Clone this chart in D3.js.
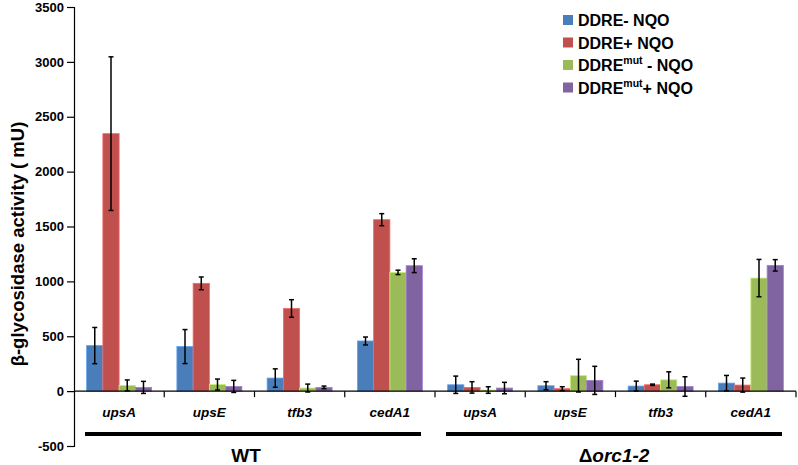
<!DOCTYPE html>
<html>
<head>
<meta charset="utf-8">
<script src="https://cdn.jsdelivr.net/npm/d3@7"></script>
<style>
  html, body { margin: 0; padding: 0; background: #fff; }
  svg { display: block; font-family: "Liberation Sans", Arial, sans-serif; }
</style>
</head>
<body>
<svg id="chart" width="798" height="465"></svg>
<script>
// ---- data ----
const categories = ["upsA", "upsE", "tfb3", "cedA1", "upsA", "upsE", "tfb3", "cedA1"];
const groups = ["WT", "orc"];
const groupOf = [0, 0, 0, 0, 1, 1, 1, 1];
const seriesNames = ["DDRE- NQO", "DDRE+ NQO", "DDREmut - NQO", "DDREmut+ NQO"];
const seriesColors = ["#4A7EBB", "#C0504D", "#9BBB59", "#8064A2"];
const valuesDDREminus = [415, 406, 119, 457, 58, 49, 46, 73];
const errorsDDREminus = [165, 155, 84, 36, 79, 37, 45, 70];
const valuesDDREplus = [2346, 982, 753, 1562, 34, 22, 58, 55];
const errorsDDREplus = [700, 58, 80, 55, 52, 18, 6, 64];
const valuesMutMinus = [52, 60, 28, 1082, 10, 141, 103, 1030];
const errorsMutMinus = [50, 50, 36, 20, 30, 149, 73, 170];
const valuesMutPlus = [34, 43, 34, 1143, 28, 98, 42, 1146];
const errorsMutPlus = [55, 55, 12, 63, 52, 128, 89, 52];
const yTicks = [-500, 0, 500, 1000, 1500, 2000, 2500, 3000, 3500];

const seriesValues = [valuesDDREminus, valuesDDREplus, valuesMutMinus, valuesMutPlus];
const seriesErrors = [errorsDDREminus, errorsDDREplus, errorsMutMinus, errorsMutPlus];

const svg = d3.select("#chart");
const catIds = categories.map((c, i) => i);

const y = d3.scaleLinear().domain([-500, 3500]).range([446, 7]);
const x0 = d3.scaleBand().domain(catIds).range([74, 796]).paddingInner(0).paddingOuter(0);
const bw = x0.bandwidth();
const x1 = d3.scaleBand().domain(d3.range(seriesNames.length)).range([bw * 0.14, bw * 0.86]).padding(0);

// y axis
const yAxis = d3.axisLeft(y).tickValues(yTicks).tickSize(7).tickPadding(3).tickFormat(d => String(d));
const gy = svg.append("g").attr("transform", "translate(74,0)").call(yAxis);
gy.select(".domain").attr("stroke", "#000").attr("stroke-width", 1.2);
gy.selectAll(".tick line").attr("stroke", "#000").attr("stroke-width", 1.2);
gy.selectAll(".tick text").attr("font-size", 13).attr("font-weight", "bold").attr("fill", "#000")
  .attr("font-family", "'Liberation Sans', Arial, sans-serif");

// bars
const barData = [];
seriesValues.forEach((vals, s) => {
  vals.forEach((v, i) => barData.push({ s, i, v, e: seriesErrors[s][i] }));
});
svg.append("g").selectAll("rect").data(barData).join("rect")
  .attr("x", d => x0(d.i) + x1(d.s))
  .attr("width", x1.bandwidth())
  .attr("y", d => y(Math.max(0, d.v)))
  .attr("height", d => Math.abs(y(d.v) - y(0)))
  .attr("fill", d => seriesColors[d.s])
  .attr("stroke", d => d3.color(seriesColors[d.s]).brighter(0.7))
  .attr("stroke-width", 0.8);

// x axis (zero line) with ticks between categories
const gx = svg.append("g");
gx.append("line").attr("x1", 74).attr("x2", 796).attr("y1", y(0)).attr("y2", y(0))
  .attr("stroke", "#000").attr("stroke-width", 1.2);
gx.selectAll("line.tk").data(catIds).join("line").attr("class", "tk")
  .attr("x1", d => x0(d) + bw).attr("x2", d => x0(d) + bw)
  .attr("y1", y(0)).attr("y2", y(0) + 6)
  .attr("stroke", "#000").attr("stroke-width", 1.2);

// error bars
const eb = svg.append("g").attr("stroke", "#000").attr("stroke-width", 1.5);
barData.forEach(d => {
  const cx = x0(d.i) + x1(d.s) + x1.bandwidth() / 2;
  const yt = y(d.v + d.e), yb = y(d.v - d.e);
  eb.append("line").attr("x1", cx).attr("x2", cx).attr("y1", yt).attr("y2", yb);
  eb.append("line").attr("x1", cx - 2.5).attr("x2", cx + 2.5).attr("y1", yt).attr("y2", yt);
  eb.append("line").attr("x1", cx - 2.5).attr("x2", cx + 2.5).attr("y1", yb).attr("y2", yb);
});

// category labels
svg.append("g").selectAll("text").data(catIds).join("text")
  .attr("x", d => x0(d) + bw / 2)
  .attr("y", 417)
  .attr("text-anchor", "middle")
  .attr("font-size", 13.5).attr("font-weight", "bold").attr("font-style", "italic")
  .text(d => categories[d]);

// group lines and labels
groups.forEach((g, gi) => {
  const ids = catIds.filter(i => groupOf[i] === gi);
  const start = x0(ids[0]) + 11;
  const end = x0(ids[ids.length - 1]) + bw - 14;
  svg.append("line").attr("x1", start).attr("x2", end).attr("y1", 434).attr("y2", 434)
    .attr("stroke", "#000").attr("stroke-width", 4);
  const t = svg.append("text").attr("x", (start + end) / 2 - (gi === 0 ? 7 : 0)).attr("y", 462)
    .attr("text-anchor", "middle").attr("font-size", 19).attr("font-weight", "bold");
  if (gi === 0) {
    t.text("WT");
  } else {
    t.append("tspan").text("Δ");
    t.append("tspan").attr("font-style", "italic").text("orc1-2");
  }
});

// y title
svg.append("text")
  .attr("transform", "translate(24,244) rotate(-90)")
  .attr("text-anchor", "middle")
  .attr("font-size", 18.5).attr("font-weight", "bold")
  .text("β-glycosidase activity ( mU)");

// legend
const legendY = [20, 42.5, 65, 87.5];
const lg = svg.append("g");
seriesNames.forEach((name, s) => {
  lg.append("rect").attr("x", 563).attr("y", legendY[s] - 5).attr("width", 10).attr("height", 10)
    .attr("fill", seriesColors[s]);
  const t = lg.append("text").attr("x", 578).attr("y", legendY[s] + 6)
    .attr("font-size", 16).attr("font-weight", "bold");
  if (name.indexOf("mut") >= 0) {
    const parts = name.split("mut");
    t.append("tspan").text(parts[0]);
    t.append("tspan").attr("font-size", 10.5).attr("dy", -7).text("mut");
    t.append("tspan").attr("dy", 7).text(parts[1]);
  } else {
    t.text(name);
  }
});
</script>
</body>
</html>
